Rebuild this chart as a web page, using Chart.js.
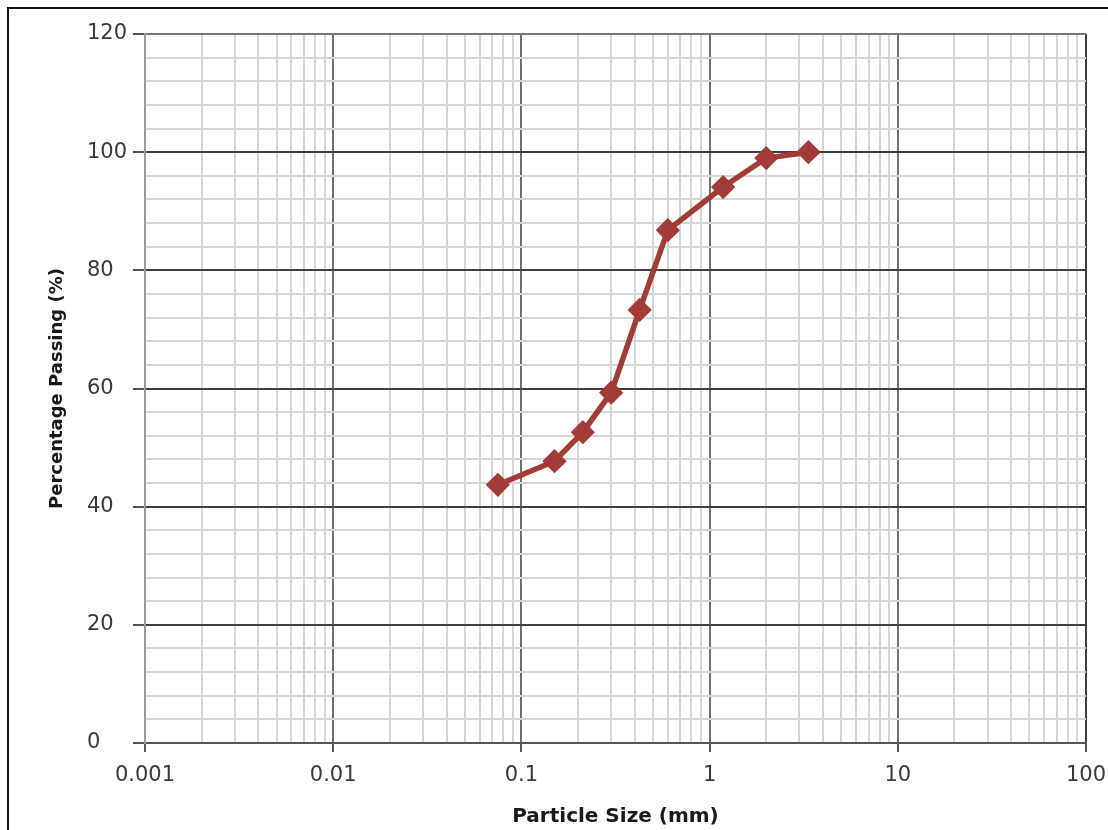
<!DOCTYPE html>
<html>
<head>
<meta charset="utf-8">
<title>Particle Size Distribution</title>
<script src="https://cdn.jsdelivr.net/npm/chart.js@4.4.1/dist/chart.umd.min.js"></script>
<style>
  html, body { margin: 0; padding: 0; background: #ffffff; overflow: hidden; }
  #wrap { position: relative; width: 1108px; height: 830px; }
  #frame { position: absolute; left: 7px; top: 7px; width: 1200px; height: 900px;
           border: 2px solid #111; box-sizing: border-box; pointer-events: none; }
  canvas { position: absolute; left: 0; top: 0; }
</style>
</head>
<body>
<div id="wrap">
  <canvas id="chart" width="1108" height="830"></canvas>
  <div id="frame"></div>
</div>
<script>
// Sieve sizes (mm) and cumulative percentage passing
const sieveSizes = [0.075, 0.15, 0.212, 0.3, 0.425, 0.6, 1.18, 2.0, 3.35];
const percentPassing = [43.7, 47.7, 52.6, 59.3, 73.3, 86.8, 94.1, 99.0, 100];

// Axis tick values
const xDecades = [0.001, 0.01, 0.1, 1, 10, 100];
const yMajorTicks = [0, 20, 40, 60, 80, 100, 120];
const yMinorStep = 4;

const points = sieveSizes.map((s, i) => ({ x: s, y: percentPassing[i] }));

function isDecade(v) {
  const l = Math.log10(v);
  return Math.abs(l - Math.round(l)) < 1e-9;
}

// Log-scale ticks: 1..9 within every decade
const xTickValues = [];
for (let d = 0; d < xDecades.length; d++) {
  const base = xDecades[d];
  if (d === xDecades.length - 1) { xTickValues.push(base); break; }
  for (let m = 1; m <= 9; m++) xTickValues.push(+(base * m).toPrecision(6));
}
const yTickValues = [];
for (let v = yMajorTicks[0]; v <= yMajorTicks[yMajorTicks.length - 1]; v += yMinorStep) yTickValues.push(v);

const lineColor = '#a33c38';

new Chart(document.getElementById('chart'), {
  type: 'line',
  data: {
    datasets: [{
      data: points,
      borderColor: lineColor,
      backgroundColor: lineColor,
      borderWidth: 5.5,
      tension: 0,
      pointStyle: 'rectRot',
      pointRadius: 10,
      pointBorderWidth: 3,
      pointBackgroundColor: lineColor,
      pointBorderColor: lineColor,
      clip: false
    }]
  },
  options: {
    responsive: false,
    devicePixelRatio: 1,
    animation: false,
    layout: { padding: { left: 87, top: 34, right: 22, bottom: 0 } },
    plugins: { legend: { display: false }, tooltip: { enabled: false } },
    scales: {
      x: {
        type: 'logarithmic',
        min: xDecades[0],
        max: xDecades[xDecades.length - 1],
        afterBuildTicks: (scale) => { scale.ticks = xTickValues.map(v => ({ value: v })); },
        afterFit: (scale) => { scale.height = 87; scale.paddingLeft = 0; scale.paddingRight = 0; },
        border: { display: true, color: '#555555', width: 2 },
        grid: {
          drawOnChartArea: true,
          drawTicks: true,
          tickLength: 9,
          color: (ctx) => {
            const v = ctx.tick && ctx.tick.value;
            if (v === undefined) return '#d4d4d4';
            if (v === xDecades[0]) return '#9a9a9a';
            if (v === xDecades[xDecades.length - 1]) return '#404040';
            return isDecade(v) ? '#707070' : '#d4d4d4';
          },
          tickColor: (ctx) => {
            const v = ctx.tick && ctx.tick.value;
            return (v !== undefined && isDecade(v)) ? '#555555' : 'rgba(0,0,0,0)';
          },
          lineWidth: 2
        },
        ticks: {
          autoSkip: false,
          maxRotation: 0,
          padding: 11,
          color: '#3a3a3a',
          font: { family: 'DejaVu Sans', size: 21 },
          callback: (v) => isDecade(v) ? String(v) : ''
        },
        title: {
          display: true,
          text: 'Particle Size (mm)',
          color: '#1a1a1a',
          font: { family: 'DejaVu Sans', size: 20, weight: 'bold', lineHeight: 1.2 },
          padding: { top: 0, bottom: 1 }
        }
      },
      y: {
        type: 'linear',
        min: yMajorTicks[0],
        max: yMajorTicks[yMajorTicks.length - 1],
        afterBuildTicks: (scale) => { scale.ticks = yTickValues.map(v => ({ value: v })); },
        afterFit: (scale) => { scale.width = 58; },
        border: { display: true, color: '#9a9a9a', width: 2 },
        grid: {
          drawTicks: true,
          tickLength: 12,
          color: (ctx) => {
            const v = ctx.tick && ctx.tick.value;
            if (v === undefined) return '#d6d6d6';
            if (v === 0) return '#555555';
            if (v === 120) return '#777777';
            return v % 20 === 0 ? '#404040' : '#d6d6d6';
          },
          tickColor: (ctx) => {
            const v = ctx.tick && ctx.tick.value;
            return (v !== undefined && v % 20 === 0) ? '#555555' : 'rgba(0,0,0,0)';
          },
          lineWidth: 2
        },
        ticks: {
          autoSkip: false,
          crossAlign: 'far',
          color: '#3a3a3a',
          font: { family: 'DejaVu Sans', size: 21 },
          callback: (v) => (v % 20 === 0 ? String(v) : '')
        },
        title: {
          display: true,
          text: 'Percentage Passing (%)',
          color: '#1a1a1a',
          font: { family: 'DejaVu Sans', size: 18, weight: 'bold', lineHeight: 1.2 },
          padding: { top: -40.8, bottom: 0 }
        }
      }
    }
  }
});
</script>
</body>
</html>
